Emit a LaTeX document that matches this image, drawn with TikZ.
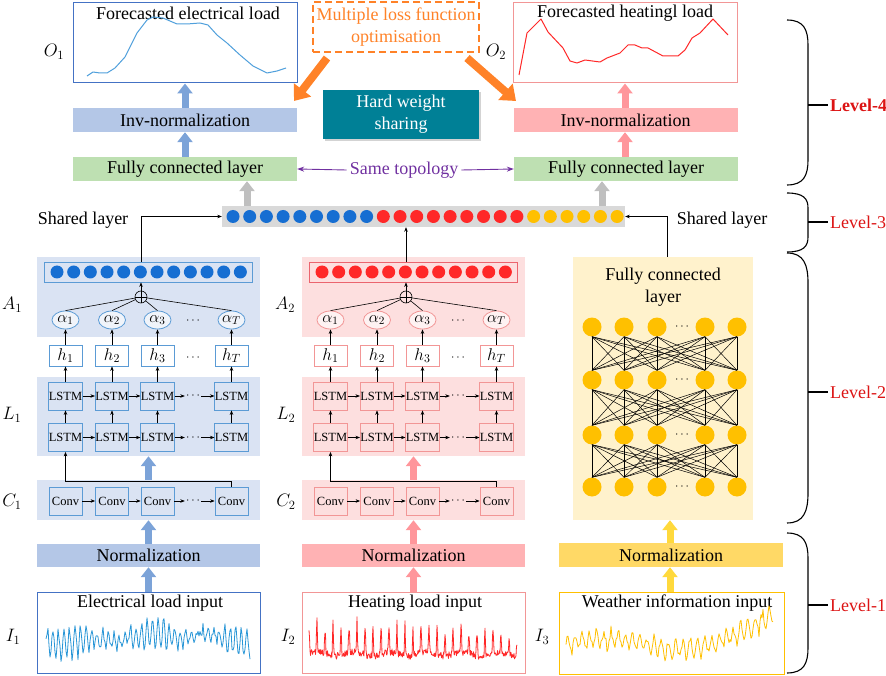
\documentclass[tikz,border=0pt]{standalone}
\usepackage{fix-cm}
\usepackage{fontspec}
\setmainfont{Liberation Serif}
\usetikzlibrary{arrows.meta,shapes.geometric,shadows}

\definecolor{bB}{RGB}{91,155,213}
\definecolor{bO}{RGB}{68,114,196}
\definecolor{pB}{RGB}{218,227,243}
\definecolor{nB}{RGB}{180,199,231}
\definecolor{aB}{RGB}{124,163,216}
\definecolor{dB}{RGB}{22,110,210}
\definecolor{bR}{RGB}{242,150,150}
\definecolor{pR}{RGB}{253,223,223}
\definecolor{nR}{RGB}{255,178,180}
\definecolor{aR}{RGB}{255,150,155}
\definecolor{dR}{RGB}{255,40,40}
\definecolor{dbR}{RGB}{235,100,110}
\definecolor{dY}{RGB}{255,192,0}
\definecolor{pY}{RGB}{255,242,204}
\definecolor{nY}{RGB}{255,217,102}
\definecolor{aY}{RGB}{255,217,60}
\definecolor{gFC}{RGB}{190,224,178}
\definecolor{gBar}{RGB}{217,217,217}
\definecolor{gArr}{RGB}{191,191,191}
\definecolor{teal1}{RGB}{0,128,150}
\definecolor{org}{RGB}{255,130,40}
\definecolor{purp}{RGB}{112,48,160}
\definecolor{lvl}{RGB}{220,20,20}
\definecolor{sigB}{RGB}{40,150,215}
\definecolor{fcB}{RGB}{80,160,220}

\tikzset{
  txt/.style={font=\fontsize{18}{22}\selectfont,inner sep=3pt},
  small/.style={font=\fontsize{12}{14}\selectfont,inner sep=1pt},
  lab/.style={font=\fontsize{18}{21}\selectfont,inner sep=1pt},
  panelB/.style={fill=pB,draw=none,inner sep=0},
  panelR/.style={fill=pR,draw=none,inner sep=0},
  boxB/.style={draw=bB,fill=pB,line width=0.8pt,minimum width=33,minimum height=28,inner sep=0,font=\fontsize{12.5}{14}\selectfont},
  boxR/.style={draw=bR,fill=pR,line width=0.8pt,minimum width=33,minimum height=28,inner sep=0,font=\fontsize{12.5}{14}\selectfont},
  hboxB/.style={draw=bB,fill=white,line width=0.8pt,minimum width=33,minimum height=21,inner sep=0,font=\fontsize{17}{19}\selectfont},
  hboxR/.style={draw=bR,fill=white,line width=0.8pt,minimum width=33,minimum height=21,inner sep=0,font=\fontsize{17}{19}\selectfont},
  ellB/.style={ellipse,draw=bB,fill=white!60!pB,line width=0.8pt,minimum width=27,minimum height=18,inner sep=0,font=\fontsize{16}{18}\selectfont},
  ellR/.style={ellipse,draw=bR,fill=white!60!pR,line width=0.8pt,minimum width=27,minimum height=18,inner sep=0,font=\fontsize{16}{18}\selectfont},
  dotboxB/.style={draw=bB,fill=pB,line width=0.8pt,inner sep=0},
  dotboxR/.style={draw=dbR,fill=pR,line width=0.8pt,inner sep=0},
  normB/.style={fill=nB,inner sep=0,minimum width=223,minimum height=23,font=\fontsize{18}{22}\selectfont},
  normR/.style={fill=nR,inner sep=0,minimum width=223,minimum height=23,font=\fontsize{18}{22}\selectfont},
  inB/.style={draw=bO,fill=white,line width=1pt,minimum width=223,minimum height=81,inner sep=0},
  inR/.style={draw=bR,fill=white,line width=1pt,minimum width=223,minimum height=81,inner sep=0},
  arrB/.style={draw=aB,line width=7pt,-{Triangle[length=10pt,width=15pt]}},
  arrR/.style={draw=aR,line width=7pt,-{Triangle[length=10pt,width=15pt]}},
  arrY/.style={draw=aY,line width=7pt,-{Triangle[length=10pt,width=15pt]}},
  arrG/.style={draw=gArr,line width=7pt,-{Triangle[length=10pt,width=15pt]}},
  arrO/.style={draw=org,line width=8pt,-{Triangle[length=14pt,width=21pt]}},
  tarrow/.style={-{Stealth[length=4.5pt,width=3.5pt]},line width=0.6pt},
  tline/.style={line width=0.6pt},
  parrow/.style={draw=purp,-{Stealth[length=7pt,width=5pt]},line width=0.9pt},
  dot/.style={circle,inner sep=0,minimum size=13,draw=none},
  ydot/.style={circle,inner sep=0,minimum size=19,draw=none,fill=dY},
  grid/.style={line width=0.5pt},
  plus/.style={circle,draw,line width=0.6pt,minimum size=12,inner sep=0,
    path picture={\draw[line width=0.6pt] (path picture bounding box.north) -- (path picture bounding box.south) (path picture bounding box.west) -- (path picture bounding box.east);}},
  obox/.style={draw=#1,fill=white,line width=1pt,minimum width=224,minimum height=80,inner sep=0},
  wide/.style={fill=#1,inner sep=0,minimum width=224,minimum height=24,font=\fontsize{18}{22}\selectfont},
  lvltxt/.style={text=lvl,font=\fontsize{18}{22}\selectfont,anchor=west,inner sep=1pt},
  sig/.style={line width=0.8pt,line join=round},
}

% one CNN-LSTM-attention column
\newcommand\mycol[6]{%
\begin{scope}[xshift=#1]
\node[panel#3,minimum width=223,minimum height=80] (pa#2) at (148.5,297) {};
\node[dotbox#3,minimum width=208,minimum height=20] (db#2) at (148,272) {};
\foreach \i in {0,...,11}{\node[dot,fill=#4] (d#2-\i) at ({57+16.67*\i},272) {};}
\node[plus] (pl#2) at (141,297) {};
\draw[tarrow] (pl#2) -- (pl#2 |- db#2.south);
\node[panel#3,minimum width=223,minimum height=79] (pL#2) at (148.5,416.5) {};
\node[panel#3,minimum width=223,minimum height=40] (pC#2) at (148.5,500) {};
\foreach \x/\k/\lab in {65.5/1/1,112/2/2,157.5/3/3,231.5/4/T}{
  \node[ell#3] (al#2-\k) at (\x,320) {$\alpha_{\lab}$};
  \node[hbox#3] (h#2-\k) at (\x,355.5) {$h_{\lab}$};
  \draw[tline] (al#2-\k.north) -- (pl#2);
  \draw[tarrow] (h#2-\k) -- (al#2-\k);
  \node[box#3] (la#2-\k) at (\x,396) {LSTM};
  \node[box#3] (lb#2-\k) at (\x,437.5) {LSTM};
  \node[box#3] (cv#2-\k) at (\x,501) {Conv};
  \draw[tarrow] (lb#2-\k) -- (la#2-\k);
  \draw[tarrow] (la#2-\k) -- (h#2-\k);
}
\node[small] (ad#2) at (193,321) {$\cdots$};
\node[small] (hd#2) at (193,358) {$\cdots$};
\node[small] (lda#2) at (193,396) {$\cdots$};
\node[small] (ldb#2) at (193,437.5) {$\cdots$};
\node[small] (cd#2) at (193,501) {$\cdots$};
\foreach \a/\b in {1/2,2/3}{
  \draw[tarrow] (la#2-\a) -- (la#2-\b);
  \draw[tarrow] (lb#2-\a) -- (lb#2-\b);
  \draw[tarrow] (cv#2-\a) -- (cv#2-\b);
}
\draw[tarrow] (la#2-3) -- (lda#2);
\draw[tarrow] (lda#2) -- (la#2-4);
\draw[tarrow] (lb#2-3) -- (ldb#2);
\draw[tarrow] (ldb#2) -- (lb#2-4);
\draw[tarrow] (cv#2-3) -- (cd#2);
\draw[tarrow] (cd#2) -- (cv#2-4);
\draw[tarrow] (cv#2-4.north) -- ++(0,-5) -| (lb#2-1.south);
\draw[arr#3] (pC#2.north) -- (pL#2.south);
\node[norm#3] (nm#2) at (148.5,555.5) {Normalization};
\draw[arr#3] (nm#2.north) -- (pC#2.south);
\node[in#3] (in#2) at (148.5,632.5) {};
\node[txt] (it#2) at (150,603) {#6};
\draw[arr#3] (in#2.north) -- (nm#2.south);
\end{scope}}

\newcommand\mybrace[4]{%
\draw[line width=1.1pt] (787,#1) .. controls (804,#1) and (808,#1+#3*0.4) .. (808,#1+#3) -- (808,#2-#3) .. controls (808,#2-#3*0.4) and (804,#2) .. (787,#2);
\draw[line width=1.1pt] (808,#4) -- (828,#4);}

\begin{document}
\begin{tikzpicture}[x=1pt,y=-1pt]
\useasboundingbox (0,0) rectangle (886,676);

% ---------- columns ----------
\mycol{0}{1}{B}{dB}{bB}{Electrical load input}
\mycol{265}{2}{R}{dR}{dbR}{Heating load input}

\pgfmathsetseed{5}
\draw[sig,sigB] plot[domain=0:204,samples=205] ({46+\x},{638-(10+7*rand+4*sin(4*\x))*sin(65*\x)+2*rand+4*sin(1.8*\x+40)+3*sin(6*\x)});
\pgfmathsetseed{9}
\draw[sig,dR] plot[domain=0:208,samples=417] ({309+\x},{654-(32+12*rand)*pow(max(0.001,cos(45*\x)),8)*(1-0.3*\x/208)-3.5*rand-2*sin(10*\x)});

% labels
\node[lab] (lA1) at (12,305) {$A_1$};
\node[lab] (lL1) at (12,415) {$L_1$};
\node[lab] (lC1) at (12,502) {$C_1$};
\node[lab] (lI1) at (13,637) {$I_1$};
\node[lab] (lA2) at (285,305) {$A_2$};
\node[lab] (lL2) at (286,415) {$L_2$};
\node[lab] (lC2) at (286,502) {$C_2$};
\node[lab] (lI2) at (288,637) {$I_2$};
\node[lab] (lI3) at (542,637) {$I_3$};

% ---------- right column ----------
\node[fill=pY,minimum width=180,minimum height=263,inner sep=0] (yp) at (663,388.5) {};
\node[txt,align=center] (ypt) at (663,287) {Fully connected\\layer};
\foreach \r/\y in {1/327,2/380,3/435,4/487}{
  \foreach \c/\x in {1/592,2/624,3/657,4/705,5/737}{\node[ydot] (f\r-\c) at (\x,\y) {};}
  \node[small] (fd\r) at (682,\y) {$\cdots$};
}
\foreach \r/\s in {1/2,2/3,3/4}{
  \foreach \i in {1,...,5}{
    \foreach \j in {1,...,5}{\draw[grid] (f\r-\i.south) -- (f\s-\j.north);}
  }
}
\node[fill=nY,inner sep=0,minimum width=224,minimum height=24,font=\fontsize{18}{22}\selectfont] (nm3) at (671,555) {Normalization};
\node[draw=dY,fill=white,line width=1pt,minimum width=225,minimum height=82,inner sep=0] (in3) at (671.5,633) {};
\node[txt] (it3) at (677,603) {Weather information input};
\pgfmathsetseed{13}
\draw[sig,dY] plot[domain=0:207,samples=208] ({566+\x},{645-(8+5*rand)*sin(50*\x)-6*sin(2.2*\x)-2.5*rand-24*pow(0.001+\x/207,5)});
\coordinate (ya) at (670,0);
\draw[arrY] (ya |- in3.north) -- (ya |- nm3.south);
\draw[arrY] (ya |- nm3.north) -- (ya |- yp.south);

% ---------- shared layer ----------
\node[fill=gBar,minimum width=403,minimum height=21,inner sep=0] (bar) at (423.5,216.5) {};
\foreach \i in {0,...,8}{\node[dot,fill=dB] (s\i) at ({233+16.7*\i},216.5) {};}
\foreach \i in {9,...,17}{\node[dot,fill=dR] (s\i) at ({233+16.7*\i},216.5) {};}
\foreach \i in {18,...,23}{\node[dot,fill=dY] (s\i) at ({233+16.7*\i},216.5) {};}
\node[txt] (sl1) at (83,220) {Shared layer};
\node[txt] (sl2) at (722,220) {Shared layer};
\draw[tarrow] (pl1 |- db1.north) |- (bar.west);
\draw[tarrow] (pl2 |- db2.north) -- (pl2 |- bar.south);
\coordinate (yc) at (667,0);
\draw[tarrow] (yc |- yp.north) |- (bar.east);

% ---------- top ----------
\node[obox=bO] (o1) at (185,43) {};
\node[txt] (o1t) at (188,13) {Forecasted electrical load};
\draw[sig,fcB,line width=1pt] plot coordinates {(87,76) (93,72) (100,73) (107,73) (115,68) (125,57) (137,33) (147,20) (153,17) (163,18) (177,24) (187,24) (200,23) (208,25) (217,35) (227,43) (240,55) (253,66) (267,73) (277,71) (286,68)};
\node[lab] (o1l) at (54,52) {$O_1$};
\node[wide=nB] (iv1) at (185,120) {Inv-normalization};
\node[wide=gFC] (fc1) at (185,169) {Fully connected layer};
\coordinate (ba) at (185,0);
\draw[arrB] (ba |- fc1.north) -- (ba |- iv1.south);
\draw[arrB] (ba |- iv1.north) -- (ba |- o1.south);

\node[obox=bR] (o2) at (625,43) {};
\node[txt] (o2t) at (625,13) {Forecasted heatingl load};
\draw[sig,dR,line width=1pt] plot coordinates {(519,75) (527,33) (541,19) (548,32) (563,48) (570,61) (577,63) (585,60) (600,62) (607,58) (620,53) (628,45) (635,45) (642,48) (648,48) (663,56) (678,56) (685,50) (692,38) (700,33) (713,19) (728,35)};
\node[lab] (o2l) at (496,52) {$O_2$};
\node[wide=nR] (iv2) at (625.5,120) {Inv-normalization};
\node[wide=gFC] (fc2) at (626,169) {Fully connected layer};
\coordinate (pa) at (625,0);
\draw[arrR] (pa |- fc2.north) -- (pa |- iv2.south);
\draw[arrR] (pa |- iv2.north) -- (pa |- o2.south);

\coordinate (g1) at (247,0);
\coordinate (g2) at (602,0);
\draw[arrG] (g1 |- bar.north) -- (g1 |- fc1.south);
\draw[arrG] (g2 |- bar.north) -- (g2 |- fc2.south);

\node[txt,text=purp] (st) at (404,170) {Same topology};
\draw[parrow] (st.west) -- (fc1.east);
\draw[parrow] (st.east) -- (fc2.west);

\node[draw=org,text=org,line width=1.2pt,dash pattern=on 7pt off 4pt,minimum width=166,minimum height=50,align=center,inner sep=0,font=\fontsize{18}{22}\selectfont] (ml) at (396,27) {Multiple loss function\\optimisation};
\node[fill=teal1,text=white,minimum width=156,minimum height=49,align=center,inner sep=0,font=\fontsize{18}{22}\selectfont,drop shadow={shadow xshift=2pt,shadow yshift=-2pt,opacity=0.35}] (hw) at (401,114.5) {Hard weight\\sharing};
\coordinate (oa1) at (327,58);
\coordinate (ob1) at (294,101);
\coordinate (oa2) at (467,58);
\coordinate (ob2) at (516,101);
\draw[arrO] (oa1) -- (ob1);
\draw[arrO] (oa2) -- (ob2);

% ---------- braces ----------
\mybrace{20}{185}{25}{105}
\mybrace{193}{252}{15}{222}
\mybrace{253}{523}{30}{392}
\mybrace{533}{673}{25}{605}
\node[lvltxt] (lv4) at (829,105) {\textbf{Level-4}};
\node[lvltxt] (lv3) at (829,222) {Level-3};
\node[lvltxt] (lv2) at (829,392) {Level-2};
\node[lvltxt] (lv1) at (829,605) {Level-1};
\end{tikzpicture}
\end{document}
